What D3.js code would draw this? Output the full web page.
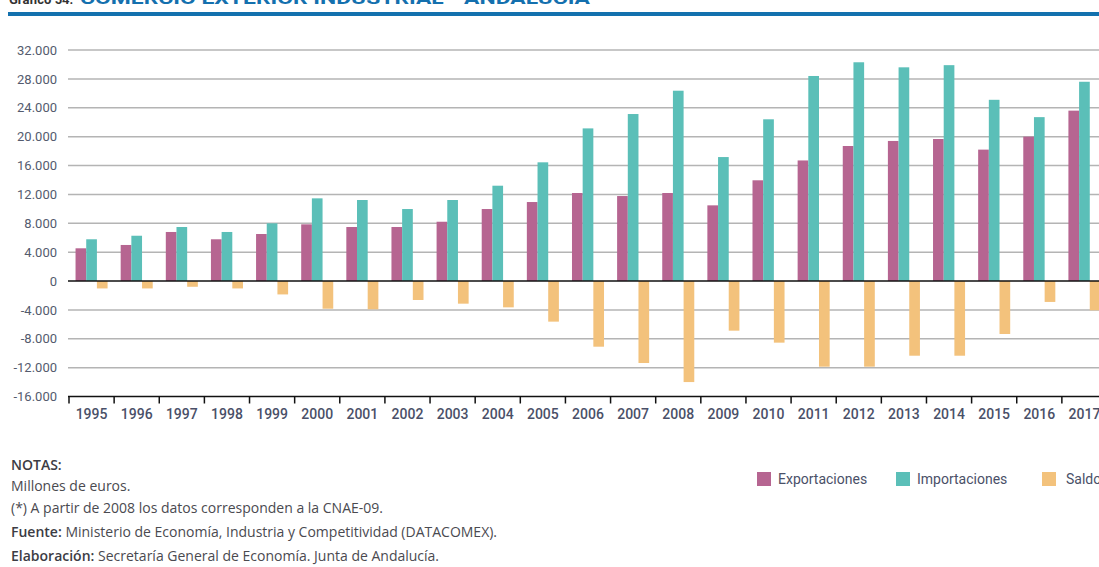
<!DOCTYPE html>
<html>
<head>
<meta charset="utf-8">
<script src="https://cdn.jsdelivr.net/npm/d3@7"></script>
<style>
    body { margin: 0; background: #fff; }
    svg { display: block; font-family: Roboto, "Noto Sans", sans-serif; }
    .grid line { stroke: #b4b4b4; stroke-width: 1.5; }
    .ylab { fill: #545b6e; font-size: 13px; }
    .xlab { fill: #4a5068; font-size: 14px; font-weight: 500; }
    .note { fill: #4a4a50; font-size: 14px; font-family: "Open Sans", Roboto, sans-serif; }
    .note .b { font-weight: 600; fill: #3c3c44; }
    .legend text { fill: #4a5068; font-size: 14px; }
</style>
</head>
<body>
<svg id="chart" width="1099" height="567"></svg>
<script>
'use strict';

var years = ["1995", "1996", "1997", "1998", "1999", "2000", "2001", "2002", "2003", "2004", "2005", "2006",
    "2007", "2008", "2009", "2010", "2011", "2012", "2013", "2014", "2015", "2016", "2017"];

var exportaciones = [4530, 4990, 6790, 5780, 6510, 7850, 7480, 7480, 8210, 9970, 10940, 12190,
    11770, 12190, 10480, 13950, 16700, 18700, 19400, 19670, 18200, 20000, 23600];

var importaciones = [5780, 6270, 7480, 6790, 7990, 11450, 11220, 9970, 11220, 13200, 16440, 21140,
    23130, 26360, 17170, 22400, 28400, 30300, 29600, 29900, 25100, 22700, 27600];

var saldo = [-1030, -1030, -800, -1030, -1860, -3840, -3920, -2630, -3140, -3650, -5630, -9100,
    -11360, -14000, -6880, -8540, -11870, -11870, -10350, -10350, -7340, -2900, -4060];

var seriesNames = ["Exportaciones", "Importaciones", "Saldo"];
var seriesColors = ["#b66591", "#5bbfb8", "#f3c27c"];

var yTicks = [-16000, -12000, -8000, -4000, 0, 4000, 8000, 12000, 16000, 20000, 24000, 28000, 32000];

var notes = [
    [["NOTAS:", true]],
    [["Millones de euros.", false]],
    [["(*) A partir de 2008 los datos corresponden a la CNAE-09.", false]],
    [["Fuente:", true], [" Ministerio de Economía, Industria y Competitividad (DATACOMEX).", false]],
    [["Elaboración:", true], [" Secretaría General de Economía. Junta de Andalucía.", false]]
];

var svg = d3.select("#chart");

var locale = d3.formatLocale({decimal: ",", thousands: ".", grouping: [3], currency: ["", "€"], minus: "-"});
var fmt = locale.format(",d");

var x0 = d3.scaleBand()
    .domain(years)
    .range([69, 1107])
    .paddingInner(0.29)
    .paddingOuter(0.145);

var x1 = d3.scaleBand()
    .domain(seriesNames)
    .range([0, x0.bandwidth()]);

var y = d3.scaleLinear()
    .domain([-16000, 32000])
    .range([396.5, 50]);

var color = d3.scaleOrdinal().domain(seriesNames).range(seriesColors);

// title, only its lower edge shows at the top of the picture
svg.append("text")
    .attr("x", 9)
    .attr("y", 4)
    .attr("fill", "#333")
    .style("font-size", "13px")
    .style("font-weight", "bold")
    .text("Gráfico 54.");

svg.append("text")
    .attr("x", 80)
    .attr("y", 4)
    .attr("textLength", 510)
    .attr("lengthAdjust", "spacingAndGlyphs")
    .attr("fill", "#1470ae")
    .style("font-size", "17px")
    .style("font-weight", "bold")
    .text("COMERCIO EXTERIOR INDUSTRIAL - ANDALUCÍA");

svg.append("rect")
    .attr("x", 8)
    .attr("y", 12)
    .attr("width", 1091)
    .attr("height", 4)
    .attr("fill", "#1371ae");

// gridlines
svg.append("g")
    .attr("class", "grid")
    .selectAll("line")
    .data(yTicks.filter(function(d) { return d !== 0 && d !== -16000; }))
    .enter().append("line")
    .attr("x1", 68)
    .attr("x2", 1099)
    .attr("y1", function(d) { return y(d); })
    .attr("y2", function(d) { return y(d); });

// y labels
svg.append("g")
    .selectAll("text")
    .data(yTicks)
    .enter().append("text")
    .attr("class", "ylab")
    .attr("x", 57)
    .attr("y", function(d) { return y(d); })
    .attr("dy", "0.36em")
    .attr("text-anchor", "end")
    .text(function(d) { return fmt(d); });

// bars
var rows = years.map(function(year, i) {
    return {year: year, values: [exportaciones[i], importaciones[i], saldo[i]]};
});

var groups = svg.append("g")
    .selectAll("g")
    .data(rows)
    .enter().append("g")
    .attr("transform", function(d) { return "translate(" + x0(d.year) + ",0)"; });

groups.selectAll("rect")
    .data(function(d) {
        return d.values.map(function(v, j) { return {key: seriesNames[j], value: v}; });
    })
    .enter().append("rect")
    .attr("x", function(d) { return x1(d.key); })
    .attr("width", x1.bandwidth())
    .attr("y", function(d) { return y(Math.max(0, d.value)); })
    .attr("height", function(d) { return Math.abs(y(d.value) - y(0)); })
    .attr("fill", function(d) { return color(d.key); });

// zero line
svg.append("line")
    .attr("x1", 68)
    .attr("x2", 1099)
    .attr("y1", y(0))
    .attr("y2", y(0))
    .attr("stroke", "#111")
    .attr("stroke-width", 1.5);

// bottom axis with ticks between years
var step = x0.step();
var axis = svg.append("g");
axis.append("line")
    .attr("x1", 68)
    .attr("x2", 1099)
    .attr("y1", y(-16000))
    .attr("y2", y(-16000))
    .attr("stroke", "#111")
    .attr("stroke-width", 1.5);

axis.selectAll("line.tick")
    .data(years)
    .enter().append("line")
    .attr("class", "tick")
    .attr("x1", function(d) { return x0(d) - step * x0.paddingInner() / 2; })
    .attr("x2", function(d) { return x0(d) - step * x0.paddingInner() / 2; })
    .attr("y1", y(-16000))
    .attr("y2", y(-16000) + 7)
    .attr("stroke", "#111")
    .attr("stroke-width", 1.5);

axis.selectAll("text")
    .data(years)
    .enter().append("text")
    .attr("class", "xlab")
    .attr("x", function(d) { return x0(d) + x0.bandwidth() / 2; })
    .attr("y", 419)
    .attr("text-anchor", "middle")
    .text(function(d) { return d; });

// notes
var noteY = [470, 491, 513, 537, 561];
svg.append("g")
    .attr("class", "note")
    .selectAll("text")
    .data(notes)
    .enter().append("text")
    .attr("x", 11)
    .attr("y", function(d, i) { return noteY[i]; })
    .each(function(parts) {
        var t = d3.select(this);
        parts.forEach(function(p) {
            t.append("tspan").attr("class", p[1] ? "b" : null).text(p[0]);
        });
    });

// legend
var legendX = [757, 896, 1042];
var legend = svg.append("g")
    .attr("class", "legend")
    .selectAll("g")
    .data(seriesNames)
    .enter().append("g")
    .attr("transform", function(d, i) { return "translate(" + legendX[i] + ",472)"; });

legend.append("rect")
    .attr("width", 14)
    .attr("height", 14)
    .attr("fill", function(d) { return color(d); });

legend.append("text")
    .attr("x", function(d, i) { return i === 2 ? 24 : 21; })
    .attr("y", 12)
    .text(function(d) { return d; });
</script>
</body>
</html>
